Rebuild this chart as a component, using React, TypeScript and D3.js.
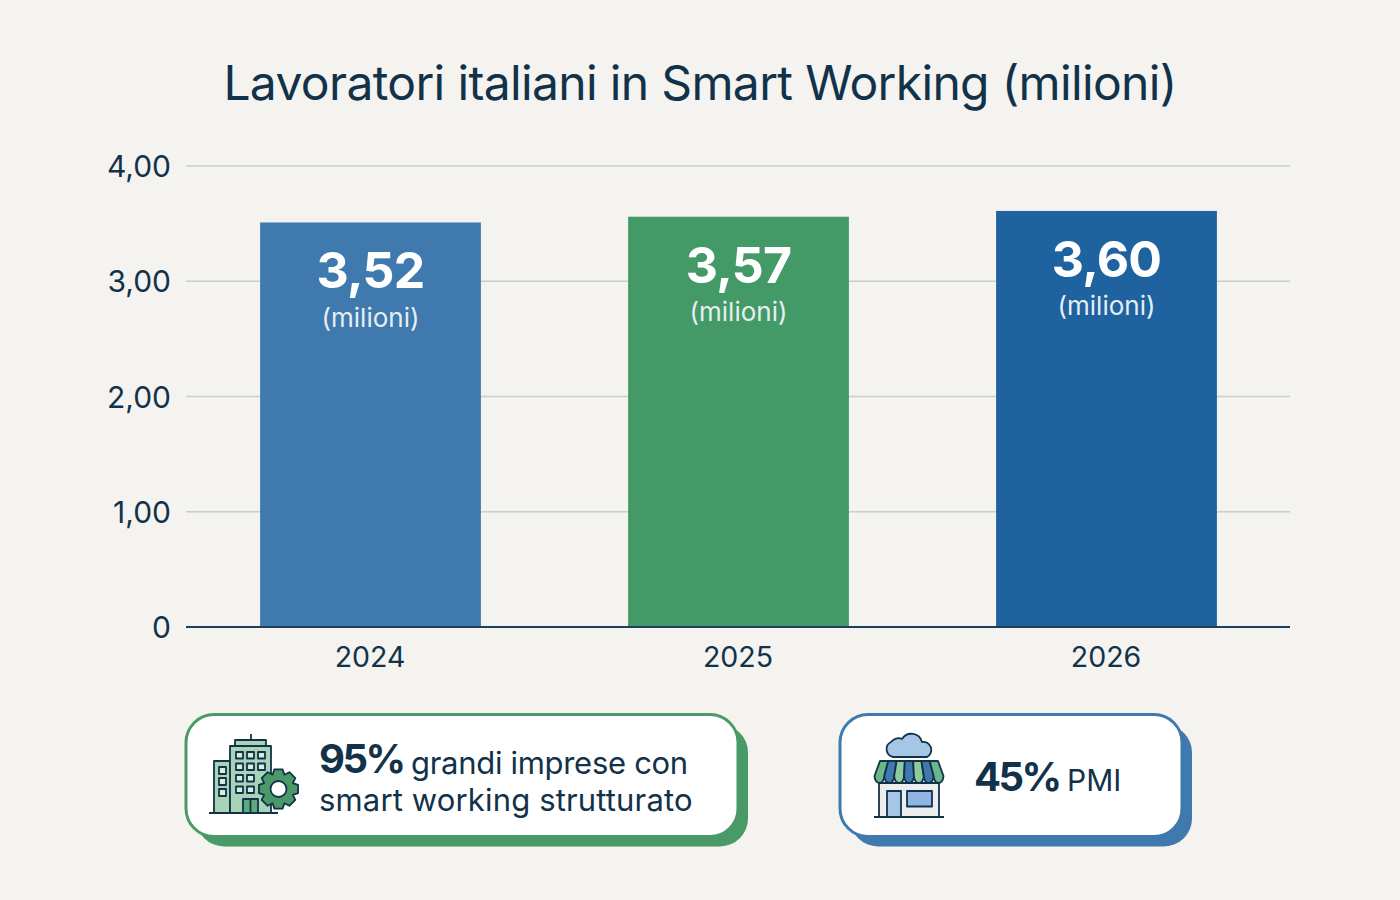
import React from "react";
import * as d3 from "d3";

const years = ["2024", "2025", "2026"];
const workers = [3.52, 3.57, 3.6];
// bar heights as drawn in the picture, slightly off the printed labels
const barHeights = [3.51, 3.56, 3.61];
const barColors = ["#3F79AE", "#449A66", "#1F62A0"];
const yTicks = [0, 1, 2, 3, 4];
const titleText = "Lavoratori italiani in Smart Working (milioni)";

const INK = "#12324A";
const FONT = "Inter, 'Noto Sans', sans-serif";
const GREEN = "#4A9A68";
const BLUE = "#3F79AE";

const width = 1400;
const height = 900;

// tick and value labels use the italian decimal comma
const it = d3.formatLocale({
  decimal: ",",
  thousands: ".",
  grouping: [3],
  currency: ["€", ""],
});
const fmt2 = it.format(".2f");
const tickLabel = (d: number) => (d === 0 ? "0" : fmt2(d));

const x = d3
  .scaleBand<string>()
  .domain(years)
  .range([186.5, 1290.5])
  .paddingInner(0.4)
  .paddingOuter(0.2);

const y = d3.scaleLinear().domain([0, 4]).range([627, 166]);

const gearPath = (cx: number, cy: number, rOut: number, rIn: number, teeth: number) => {
  const pts: [number, number][] = [];
  const step = (Math.PI * 2) / teeth;
  for (let i = 0; i < teeth; i++) {
    const a = i * step - Math.PI / 2;
    [
      [-0.5, rIn],
      [-0.27, rOut],
      [0.27, rOut],
      [0.5, rIn],
    ].forEach(([t, r]) => {
      pts.push([cx + r * Math.cos(a + t * step), cy + r * Math.sin(a + t * step)]);
    });
  }
  return d3.line().curve(d3.curveLinearClosed)(pts) as string;
};

const Card: React.FC<{ x: number; w: number; color: string }> = ({ x: cx, w, color }) => (
  <g>
    <rect x={cx + 10} y={724.5} width={w} height={122} rx={28} fill={color} />
    <rect x={cx} y={714.5} width={w} height={122} rx={28} fill="#FFFFFF" stroke={color} strokeWidth={3} />
  </g>
);

const BuildingIcon = () => {
  const mainCols = [236, 247, 258];
  const mainRows = [752, 763.5, 775, 786.5];
  const sideRows = [767, 778, 789];
  return (
    <g stroke={INK} strokeWidth={1.8} strokeLinejoin="round">
      <line x1={251} x2={251} y1={734} y2={740} />
      <rect x={235} y={740} width={31} height={6} fill="#A9D3B6" />
      <rect x={214} y={761} width={16} height={52} fill="#A9D3B6" />
      <rect x={230} y={746} width={41} height={67} fill="#A9D3B6" />
      {sideRows.map((r) => (
        <rect key={r} x={219} y={r} width={7} height={7} fill="#D9EDDF" />
      ))}
      {mainRows.map((r, i) =>
        mainCols
          .filter((_, j) => i < 2 || j < 2)
          .map((c) => <rect key={`${r}-${c}`} x={c} y={r} width={7} height={6.5} fill="#D9EDDF" />)
      )}
      <rect x={243} y={799} width={15} height={14} fill="#5FA97E" />
      <line x1={250.5} x2={250.5} y1={799} y2={813} />
      <line x1={209} x2={278} y1={813} y2={813} strokeWidth={2.2} />
      <path d={gearPath(278.5, 789, 20, 15.5, 8)} fill={GREEN} />
      <circle cx={278.5} cy={789} r={8} fill="#FFFFFF" />
    </g>
  );
};

const ShopIcon = () => {
  const stripes = ["#6DB58A", "#3F79AE", "#8CCB9F", "#3F79AE", "#8CCB9F", "#3F79AE", "#6DB58A"];
  const stripeX = d3.range(8).map((i) => 880 + (i * 58) / 7);
  const lipX = d3.range(8).map((i) => 874.5 + (i * 69) / 7);
  return (
    <g stroke={INK} strokeWidth={1.8} strokeLinejoin="round">
      <path
        d="M893 757 a8 8 0 0 1 -2 -15 a9 9 0 0 1 11 -3 a11 11 0 0 1 20 3 a8 8 0 0 1 5 15 z"
        fill="#A6C6E6"
      />
      <rect x={879} y={783} width={60} height={34} fill="#ECEDEE" />
      <rect x={887} y={791} width={14} height={26} fill="#A6C6E6" />
      <rect x={907} y={791} width={25} height={15.5} fill="#8FB5E0" />
      {stripes.map((c, i) => (
        <path
          key={i}
          d={`M${stripeX[i]} 761 L${stripeX[i + 1]} 761 L${lipX[i + 1]} 776 a${(lipX[i + 1] - lipX[i]) / 2} 7 0 0 1 ${lipX[i] - lipX[i + 1]} 0 Z`}
          fill={c}
        />
      ))}
      <line x1={874} x2={944} y1={817} y2={817} strokeWidth={2.2} />
    </g>
  );
};

export default function App() {
  return (
    <div style={{ position: "absolute", left: 0, top: 0 }}>
      <svg width={width} height={height} style={{ display: "block" }} fontFamily={FONT}>
        <rect width={width} height={height} fill="#F4F3EF" />

        <text x={700} y={100} textAnchor="middle" fontSize={48} letterSpacing={-0.65} fill={INK}>
          {titleText}
        </text>

        {yTicks.map((t) => (
          <g key={t}>
            {t > 0 && <line x1={186} x2={1290} y1={y(t)} y2={y(t)} stroke="#C8CECD" strokeWidth={1.5} />}
            <text x={171} y={y(t) + 11} textAnchor="end" fontSize={30} fill={INK}>
              {tickLabel(t)}
            </text>
          </g>
        ))}

        {years.map((yr, i) => {
          const cx = (x(yr) as number) + x.bandwidth() / 2;
          const top = y(barHeights[i]);
          return (
            <g key={yr}>
              <rect x={x(yr)} y={top} width={x.bandwidth()} height={y(0) - top} fill={barColors[i]} />
              <text
                x={cx}
                y={top + 66}
                textAnchor="middle"
                fontSize={50}
                fontWeight={700}
                letterSpacing={-0.8}
                fill="#FFFFFF"
              >
                {fmt2(workers[i])}
              </text>
              <text x={cx} y={top + 104.5} textAnchor="middle" fontSize={26} fill="#E6EEF4">
                (milioni)
              </text>
              <text x={cx - 0.5} y={667} textAnchor="middle" fontSize={28.5} fill={INK}>
                {yr}
              </text>
            </g>
          );
        })}

        <line x1={186} x2={1290} y1={y(0)} y2={y(0)} stroke="#1D3F5A" strokeWidth={2} />

        <Card x={186} w={552} color={GREEN} />
        <BuildingIcon />
        <text x={319} y={773} fill={INK} fontSize={40} fontWeight={700} letterSpacing={-2.5}>
          95%
        </text>
        <text x={411} y={774} fill={INK} fontSize={31} letterSpacing={-0.3}>
          grandi imprese con
        </text>
        <text x={319} y={811} fill={INK} fontSize={31} letterSpacing={0.15}>
          smart working strutturato
        </text>

        <Card x={840} w={342} color={BLUE} />
        <ShopIcon />
        <text x={974} y={791} fill={INK} fontSize={40} fontWeight={700} letterSpacing={-2.5}>
          45%
        </text>
        <text x={1067} y={791} fill={INK} fontSize={30}>
          PMI
        </text>
      </svg>
    </div>
  );
}
